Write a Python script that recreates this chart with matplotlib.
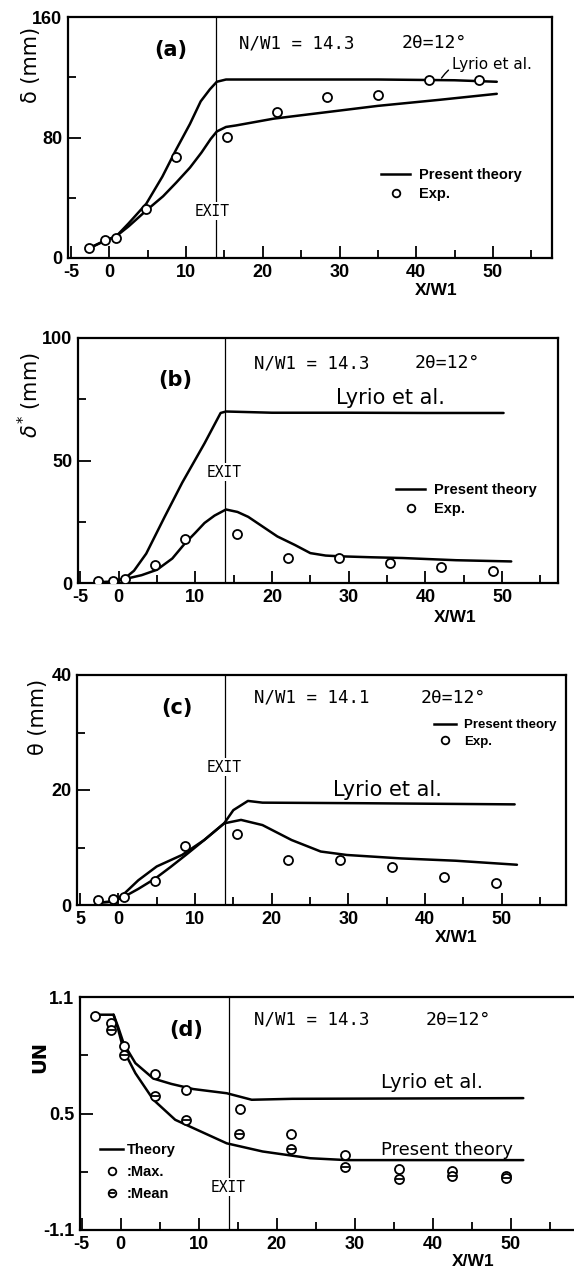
import numpy as np
import matplotlib
matplotlib.use('Agg')
import matplotlib.pyplot as plt
from matplotlib.lines import Line2D

W, H = 574, 1270
NARROW = ['Liberation Sans', 'DejaVu Sans']
MONO = ['DejaVu Sans Mono']

# ---- data ----
x_major = [-5, 0, 10, 20, 30, 40, 50]
x_minor = [5, 15, 25, 35, 45, 55]
exit_x = 13.9

# (a) delta
exp_a_x = [-2.6, -0.6, 0.9, 4.8, 8.7, 15.3, 21.8, 28.4, 35.0, 41.7, 48.2]
exp_a_y = [6.6, 11.7, 13.2, 32.5, 67, 80.6, 96.7, 107, 108.4, 118.5, 118.5]
lyrio_a_x = [-2.6, -1.0, 0.9, 2.5, 4.8, 6.9, 8.7, 10.5, 11.9, 13.1, 14.0, 15.2, 25, 35, 45, 50.5]
lyrio_a_y = [6.6, 10.5, 14.5, 23, 36, 54, 72, 89, 104, 112, 117, 118.5, 118.5, 118.5, 118, 117]
pres_a_x = [-2.6, -1.0, 0.9, 2.5, 4.8, 7.0, 8.7, 10.5, 12.0, 13.2, 14.0, 15.2, 16.5, 21.4, 28.6, 35, 43, 50.5]
pres_a_y = [6.6, 10.5, 14.5, 21, 31.5, 41, 50, 60, 70, 79, 84, 87, 88, 92.5, 97, 101, 105, 109]

# (b) delta*
exp_b_x = [-2.7, -0.7, 0.8, 4.8, 8.6, 15.5, 22.1, 28.8, 35.4, 42.1, 48.8]
exp_b_y = [0.7, 0.7, 1.6, 7.5, 18, 20, 10.2, 10.2, 8.2, 6.4, 4.8]
lyrio_b_x = [-2.7, -0.7, 0.8, 2.0, 3.6, 6.0, 8.3, 11.2, 13.3, 14.0, 20, 30, 40, 50.2]
lyrio_b_y = [0.3, 0.5, 1.9, 5, 12, 27, 41, 57, 69.4, 70, 69.5, 69.5, 69.4, 69.4]
pres_b_x = [-2.7, -0.7, 0.8, 3, 5, 7, 8.6, 10, 11.2, 12.5, 14, 15.5, 16.9, 18.8, 20.7, 23, 25, 27, 28.8, 33, 37, 44, 51.2]
pres_b_y = [0.3, 0.5, 1.6, 3.2, 5.4, 10, 16, 20.5, 24.5, 27.5, 30, 29, 27, 23, 19, 15.5, 12.2, 11.2, 10.9, 10.5, 10.2, 9.3, 8.8]

# (c) theta
exp_c_x = [-2.7, -0.7, 0.7, 4.8, 8.7, 15.5, 22.1, 28.9, 35.7, 42.5, 49.3]
exp_c_y = [0.9, 1.0, 1.4, 4.2, 10.3, 12.3, 7.8, 7.8, 6.6, 4.8, 3.9]
lyrio_c_x = [-2.7, -0.7, 0.7, 2.6, 5.0, 8.3, 11.2, 13.8, 15.0, 16.9, 18.8, 32, 51.7]
lyrio_c_y = [0.4, 0.6, 1.9, 4.3, 6.7, 8.7, 11.3, 14.2, 16.5, 18.1, 17.8, 17.7, 17.5]
pres_c_x = [-2.7, -0.7, 0.7, 2.6, 4.8, 6.8, 8.8, 11.2, 13.8, 16.0, 18.8, 22.6, 26.4, 29.8, 36.9, 44, 52]
pres_c_y = [0.4, 0.6, 1.4, 2.8, 4.6, 6.6, 8.7, 11.3, 14.2, 14.8, 13.9, 11.3, 9.3, 8.7, 8.1, 7.7, 7.0]

# (d) UN
max_d_x = [-3.3, -1.2, 0.4, 4.4, 8.4, 15.3, 21.9, 28.7, 35.7, 42.5, 49.4]
max_d_y = [0.92, 0.89, 0.79, 0.67, 0.60, 0.52, 0.41, 0.32, 0.26, 0.255, 0.23]
mean_d_x = [-1.2, 0.4, 4.4, 8.4, 15.2, 21.9, 28.7, 35.7, 42.5, 49.4]
mean_d_y = [0.857, 0.75, 0.576, 0.47, 0.41, 0.347, 0.27, 0.22, 0.232, 0.225]
lyrio_d_x = [-2.8, -0.9, -0.3, 0.4, 1.9, 4.2, 6.5, 9.3, 13.6, 16.8, 22, 51.6]
lyrio_d_y = [0.924, 0.924, 0.87, 0.80, 0.716, 0.65, 0.627, 0.605, 0.587, 0.559, 0.563, 0.566]
pres_d_x = [-0.9, -0.3, 0.4, 1.9, 4.2, 7.0, 9.8, 13.6, 18.2, 24.3, 29, 51.6]
pres_d_y = [0.924, 0.86, 0.77, 0.673, 0.559, 0.473, 0.43, 0.372, 0.337, 0.308, 0.30, 0.30]

fig = plt.figure(figsize=(W / 100, H / 100), dpi=100)


def px_box(l, t, r, b):
    return [l / W, 1 - b / H, (r - l) / W, (b - t) / H]


def ftext(x, y, s, **kw):
    ha = kw.pop('ha', 'center')
    va = kw.pop('va', 'center')
    return fig.text(x / W, 1 - y / H, s, ha=ha, va=va, **kw)


def setup(ax, xlim, ylim, yticks, ylabels, yminor, xlabels=None):
    ax.set_xlim(*xlim)
    ax.set_ylim(*ylim)
    ax.set_xticks(x_major)
    ax.set_xticklabels(xlabels if xlabels else [str(v) for v in x_major])
    ax.set_xticks(x_minor, minor=True)
    ax.set_yticks(yticks)
    ax.set_yticklabels(ylabels)
    ax.set_yticks(yminor, minor=True)
    ax.tick_params(which='both', direction='in', width=1.3, top=False, right=False)
    ax.tick_params(which='major', length=9, labelsize=13, pad=4)
    ax.tick_params(which='minor', length=6)
    for s in ax.spines.values():
        s.set_linewidth(1.6)
    for lab in ax.get_xticklabels() + ax.get_yticklabels():
        lab.set_family(NARROW)
        lab.set_weight('bold')
    ax.axvline(exit_x, color='k', lw=0.9)


def curve(ax, x, y):
    ax.plot(x, y, color='k', lw=1.8, solid_capstyle='round')


def exp_pts(ax, x, y):
    ax.plot(x, y, ls='none', marker='o', ms=6.5, mfc='white', mec='k', mew=1.3, zorder=4)


theory_h = Line2D([], [], color='k', lw=1.8)
exp_h = Line2D([], [], ls='none', marker='o', ms=5.5, mfc='white', mec='k', mew=1.3)


def legend(ax, x, y, fs=10.5, hl=2.0):
    ax.legend([theory_h, exp_h], ['Present theory', 'Exp.'], loc='upper left',
              bbox_to_anchor=(x / W, 1 - y / H), bbox_transform=fig.transFigure,
              frameon=False, handlelength=hl, handletextpad=0.6, labelspacing=0.35,
              borderpad=0, borderaxespad=0, prop={'family': 'Liberation Sans', 'weight': 'bold', 'size': fs})


# ---------- (a) ----------
ax = fig.add_axes(px_box(68, 17, 552, 258))
setup(ax, (-5.4, 57.7), (0, 160), [0, 80, 160], ['0', '80', '160'], [40, 120])
curve(ax, lyrio_a_x, lyrio_a_y)
curve(ax, pres_a_x, pres_a_y)
exp_pts(ax, exp_a_x, exp_a_y)
ax.annotate('Lyrio et al.', xy=(43.3, 119.5), xytext=(44.7, 128.5), ha='left', va='center',
            fontsize=11, family='DejaVu Sans',
            arrowprops=dict(arrowstyle='-', connectionstyle='arc3,rad=0.4', lw=1, shrinkA=1, shrinkB=0))
legend(ax, 381, 168)
ftext(171, 50, '(a)', fontsize=15, weight='bold')
ftext(297, 43, 'N/W1 = 14.3', fontsize=12.5, family=MONO)
ftext(434, 43, '2θ=12°', fontsize=13, family=MONO)
ftext(212, 211, 'EXIT', fontsize=10.5, family=MONO, bbox=dict(fc='white', ec='none', pad=1))
ftext(31, 65, 'δ (mm)', fontsize=15, rotation=90)
ftext(436, 291, 'X/W1', fontsize=12.5, family=NARROW, weight='bold')

# ---------- (b) ----------
ax = fig.add_axes(px_box(78, 338, 558, 583))
setup(ax, (-5.3, 57.3), (0, 100), [0, 50, 100], ['0', '50', '100'], [25, 75])
curve(ax, lyrio_b_x, lyrio_b_y)
curve(ax, pres_b_x, pres_b_y)
exp_pts(ax, exp_b_x, exp_b_y)
legend(ax, 396, 483)
ftext(390, 398, 'Lyrio et al.', fontsize=15)
ftext(175, 380, '(b)', fontsize=15, weight='bold')
ftext(312, 363, 'N/W1 = 14.3', fontsize=12.5, family=MONO)
ftext(447, 363, '2θ=12°', fontsize=13, family=MONO)
ftext(224, 472, 'EXIT', fontsize=10.5, family=MONO, bbox=dict(fc='white', ec='none', pad=1))
ftext(30, 395, r'$\delta^{*}$ (mm)', fontsize=15, rotation=90)
ftext(455, 618, 'X/W1', fontsize=12.5, family=NARROW, weight='bold')

# ---------- (c) ----------
ax = fig.add_axes(px_box(77, 675, 566, 905))
setup(ax, (-5.4, 58.4), (0, 40), [0, 20, 40], ['0', '20', '40'], [10, 30],
      xlabels=['5', '0', '10', '20', '30', '40', '50'])
curve(ax, lyrio_c_x, lyrio_c_y)
curve(ax, pres_c_x, pres_c_y)
exp_pts(ax, exp_c_x, exp_c_y)
legend(ax, 434, 719, fs=9.5, hl=1.7)
ftext(387, 790, 'Lyrio et al.', fontsize=15)
ftext(177, 708, '(c)', fontsize=15, weight='bold')
ftext(312, 698, 'N/W1 = 14.1', fontsize=12.5, family=MONO)
ftext(453, 698, '2θ=12°', fontsize=13, family=MONO)
ftext(224, 767, 'EXIT', fontsize=10.5, family=MONO, bbox=dict(fc='white', ec='none', pad=1))
ftext(38, 717, 'θ (mm)', fontsize=15, rotation=90)
ftext(456, 938, 'X/W1', fontsize=12.5, family=NARROW, weight='bold')

# ---------- (d) ----------
ax = fig.add_axes(px_box(80, 997, 574, 1230))
setup(ax, (-5.2, 58.1), (0, 1.0), [0, 0.5, 1.0], ['-1.1', '0.5', '1.1'], [0.25, 0.75])
ax.spines['right'].set_visible(False)
curve(ax, lyrio_d_x, lyrio_d_y)
curve(ax, pres_d_x, pres_d_y)
ax.plot(max_d_x, max_d_y, ls='none', marker='o', ms=6.5, mfc='white', mec='k', mew=1.3, zorder=4)
ax.plot(mean_d_x, mean_d_y, ls='none', marker='o', ms=6.5, mfc='white', mec='k', mew=1.3, zorder=4)
ax.plot(mean_d_x, mean_d_y, ls='none', marker='_', ms=5.5, mec='k', mew=1.3, zorder=5)
mean_h = (Line2D([], [], ls='none', marker='o', ms=5.5, mfc='white', mec='k', mew=1.3),
          Line2D([], [], ls='none', marker='_', ms=4.5, mec='k', mew=1.3))
ax.legend([theory_h, exp_h, mean_h], ['Theory', ':Max.', ':Mean'], loc='upper left',
          bbox_to_anchor=(100 / W, 1 - 1143 / H), bbox_transform=fig.transFigure,
          frameon=False, handlelength=1.6, handletextpad=0.25, labelspacing=0.55,
          borderpad=0, borderaxespad=0, prop={'family': 'Liberation Sans', 'weight': 'bold', 'size': 10.5})
ftext(432, 1083, 'Lyrio et al.', fontsize=14)
ftext(447, 1150, 'Present theory', fontsize=13)
ftext(186, 1030, '(d)', fontsize=15, weight='bold')
ftext(312, 1020, 'N/W1 = 14.3', fontsize=12.5, family=MONO)
ftext(458, 1020, '2θ=12°', fontsize=13, family=MONO)
ftext(228, 1187, 'EXIT', fontsize=10.5, family=MONO, bbox=dict(fc='white', ec='none', pad=1))
ftext(40, 1057, 'UN', fontsize=14, rotation=90, weight='bold')
ftext(473, 1262, 'X/W1', fontsize=12.5, family=NARROW, weight='bold')

fig.savefig('out.png', dpi=100)
